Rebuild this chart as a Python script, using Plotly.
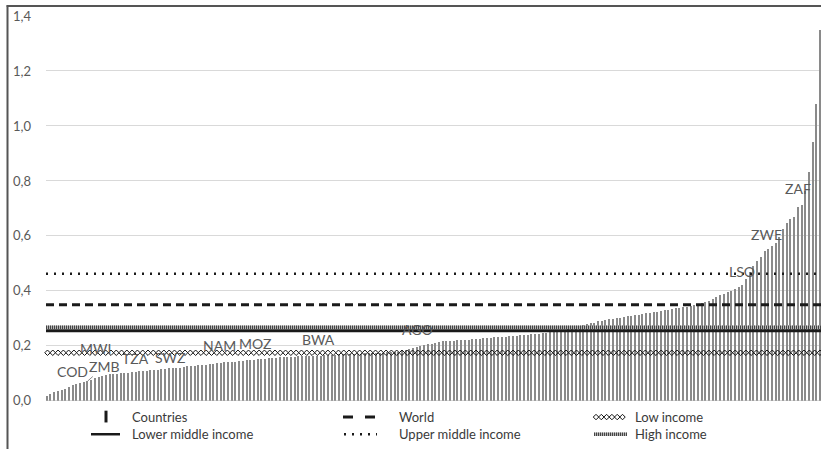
import numpy as np
import plotly.graph_objects as go

# ---------------------------------------------------------------- data
# One value per country, sorted ascending
country_values = [
    0.018, 0.026, 0.031, 0.036, 0.040, 0.044, 0.051, 0.056, 0.060, 0.064,
    0.068, 0.072, 0.077, 0.082, 0.086, 0.090, 0.094, 0.097, 0.098, 0.099,
    0.100, 0.102, 0.103, 0.105, 0.106, 0.108, 0.109, 0.110, 0.111, 0.113,
    0.114, 0.115, 0.117, 0.118, 0.119, 0.120, 0.121, 0.123, 0.125, 0.126,
    0.128, 0.129, 0.131, 0.132, 0.134, 0.135, 0.137, 0.138, 0.140, 0.141,
    0.142, 0.143, 0.145, 0.146, 0.147, 0.149, 0.150, 0.151, 0.152, 0.154,
    0.155, 0.156, 0.157, 0.158, 0.159, 0.160, 0.160, 0.161, 0.162, 0.162,
    0.163, 0.163, 0.164, 0.165, 0.165, 0.166, 0.167, 0.167, 0.168, 0.169,
    0.169, 0.170, 0.170, 0.171, 0.172, 0.172, 0.173, 0.173, 0.174, 0.174,
    0.175, 0.175, 0.176, 0.176, 0.177, 0.177, 0.180, 0.185, 0.189, 0.193,
    0.196, 0.200, 0.203, 0.206, 0.208, 0.211, 0.214, 0.216, 0.217, 0.218,
    0.219, 0.220, 0.221, 0.222, 0.223, 0.224, 0.225, 0.226, 0.227, 0.229,
    0.230, 0.231, 0.232, 0.233, 0.234, 0.235, 0.236, 0.237, 0.238, 0.240,
    0.241, 0.242, 0.244, 0.245, 0.246, 0.248, 0.250, 0.252, 0.254, 0.256,
    0.259, 0.262, 0.265, 0.268, 0.272, 0.276, 0.279, 0.282, 0.285, 0.289,
    0.291, 0.294, 0.297, 0.299, 0.301, 0.303, 0.305, 0.307, 0.309, 0.311,
    0.313, 0.316, 0.318, 0.321, 0.323, 0.325, 0.328, 0.330, 0.332, 0.334,
    0.336, 0.338, 0.340, 0.342, 0.345, 0.349, 0.354, 0.357, 0.360, 0.363,
    0.371, 0.379, 0.385, 0.390, 0.395, 0.401, 0.407, 0.414, 0.422, 0.444,
    0.468, 0.490, 0.510, 0.525, 0.545, 0.554, 0.565, 0.575, 0.596, 0.626,
    0.648, 0.662, 0.669, 0.705, 0.713, 0.765, 0.832, 0.940, 1.080, 1.350,
]

# Income-group averages drawn as horizontal reference lines
group_names = ["World", "Low income", "Lower middle income",
               "Upper middle income", "High income"]
group_values = [0.350, 0.175, 0.255, 0.462, 0.268]

# Highlighted countries: code, label centre (bar position, value)
label_codes = ["COD", "MWI", "ZMB", "TZA", "SWZ", "NAM",
               "MOZ", "BWA", "AGO", "LSO", "ZWE", "ZAF"]
label_x = [6.8, 13.0, 15.4, 23.8, 33.3, 46.5, 56.3, 73.3, 100.1, 187.9, 194.4, 203.1]
label_y = [0.107, 0.189, 0.124, 0.154, 0.157, 0.201, 0.207, 0.225, 0.261, 0.469, 0.606, 0.773]
zmb_bar = 11  # ZMB label is tied to its bar with a leader line

y_ticks = [0.0, 0.2, 0.4, 0.6, 0.8, 1.0, 1.2, 1.4]

# ---------------------------------------------------------------- layout constants
W, H = 821, 455
M_L, M_R, M_T, M_B = 46, 0, 16, 0
PLOT_BOTTOM_PX = 408
FONT = "Lato"
TEXT_GREY = "#595959"
LINE_DARK = "#1a1a1a"

plot_h = H - M_T - M_B
plot_w = W - M_L - M_R
y_dom0 = (H - M_B - PLOT_BOTTOM_PX) / plot_h
leg_dom1 = 0.095
leg_top_px = H - M_B - leg_dom1 * plot_h


def paper_x(px):
    return (px - M_L) / plot_w


def paper_y(py):
    return (H - M_B - py) / plot_h


n = len(country_values)
bar_idx = list(range(n))
x_lo, x_hi = -0.27, n - 1 + 0.2

fig = go.Figure()

# Country bars
fig.add_trace(go.Bar(
    x=bar_idx, y=country_values, width=0.4,
    marker=dict(color="#8a8a8a", line=dict(width=0)),
    showlegend=False, hoverinfo="y",
))

world, low, lower_mid, upper_mid, high = group_values

# Low income: chain of open diamonds
diamond_x = np.arange(x_lo + 0.4, x_hi, 1.43)
fig.add_trace(go.Scatter(
    x=diamond_x, y=[low] * len(diamond_x), mode="markers",
    marker=dict(symbol="diamond-open", size=4.2, color="#111111",
                line=dict(width=1, color="#111111")),
    showlegend=False, hoverinfo="skip", cliponaxis=False,
))

shapes = []


def hline(y, **line):
    shapes.append(dict(type="line", xref="paper", yref="y", x0=0, x1=1,
                       y0=y, y1=y, line=line, layer="above"))


hline(upper_mid, color=LINE_DARK, width=2.5, dash="2px,6px")
hline(world, color=LINE_DARK, width=3, dash="8px,5px")
hline(high, color="#b5b5b5", width=3.5)
hline(high, color="#444444", width=3.5, dash="1px,1px")
hline(lower_mid, color=LINE_DARK, width=3)

# Frame around the figure (top and left edges)
shapes.append(dict(type="line", xref="paper", yref="paper",
                   x0=paper_x(6.6), x1=paper_x(W + 2), y0=paper_y(5.8), y1=paper_y(5.8),
                   line=dict(color="#555555", width=2)))
shapes.append(dict(type="line", xref="paper", yref="paper",
                   x0=paper_x(7.5), x1=paper_x(7.5), y0=paper_y(5), y1=paper_y(H + 2),
                   line=dict(color="#555555", width=2)))

annotations = []
for code, lx, ly in zip(label_codes, label_x, label_y):
    if code == "ZMB":
        continue
    annotations.append(dict(x=lx, y=ly, xref="x", yref="y", text=code,
                            showarrow=False, xanchor="center", yanchor="middle",
                            font=dict(family=FONT, size=14, color=TEXT_GREY)))

# ZMB label with leader line to its bar
zi = label_codes.index("ZMB")
px_per_bar = plot_w / (x_hi - x_lo)
px_per_unit = (PLOT_BOTTOM_PX - M_T) / (y_ticks[-1] - y_ticks[0])
annotations.append(dict(
    x=zmb_bar, y=country_values[zmb_bar], xref="x", yref="y", text="ZMB",
    showarrow=True, arrowhead=0, arrowwidth=1, arrowcolor="#8a8a8a", standoff=0,
    ax=(label_x[zi] - zmb_bar) * px_per_bar,
    ay=-(label_y[zi] - country_values[zmb_bar]) * px_per_unit,
    font=dict(family=FONT, size=14, color=TEXT_GREY),
))

# ---------------------------------------------------------------- legend
# Drawn on its own hidden axes below the plot, in pixel-like units
LEG = dict(xaxis="x2", yaxis="y2", showlegend=False, hoverinfo="skip")
row1, row2 = 424.5, 442
col_sym = [(91, 120), (343, 377), (594, 627)]
col_txt = [130, 397, 633]


def leg_line(x0, x1, y, **line):
    fig.add_trace(go.Scatter(x=[x0, x1], y=[y, y], mode="lines", line=line, **LEG))


# Countries: short vertical bar
fig.add_trace(go.Scatter(x=[106, 106], y=[418, 430], mode="lines",
                         line=dict(color=LINE_DARK, width=3), **LEG))
leg_line(*col_sym[0], row2, color=LINE_DARK, width=2.5)
leg_line(*col_sym[1], row1, color=LINE_DARK, width=3, dash="10px,12px")
leg_line(col_sym[1][0] + 1, col_sym[1][1], row2, color=LINE_DARK, width=2.5, dash="2px,6px")
leg_diamonds = np.arange(col_sym[2][0] + 2, col_sym[2][1], 5.3)
fig.add_trace(go.Scatter(x=leg_diamonds, y=[row1] * len(leg_diamonds), mode="markers",
                         marker=dict(symbol="diamond-open", size=4.2, color="#111111",
                                     line=dict(width=1, color="#111111")), **LEG))
leg_line(*col_sym[2], row2, color="#b5b5b5", width=3.5)
leg_line(*col_sym[2], row2, color="#444444", width=3.5, dash="1px,1px")

legend_items = [("Countries", 0, row1), (group_names[2], 0, row2),
                (group_names[0], 1, row1), (group_names[3], 1, row2),
                (group_names[1], 2, row1), (group_names[4], 2, row2)]
for text, col, row in legend_items:
    annotations.append(dict(x=col_txt[col], y=row, xref="x2", yref="y2", text=text,
                            showarrow=False, xanchor="left", yanchor="middle",
                            font=dict(family=FONT, size=13, color="#3a3a3a")))

fig.update_layout(
    width=W, height=H,
    margin=dict(l=M_L, r=M_R, t=M_T, b=M_B, pad=0),
    paper_bgcolor="white", plot_bgcolor="white",
    separators=",.",
    bargap=0,
    font=dict(family=FONT, color=TEXT_GREY),
    xaxis=dict(range=[x_lo, x_hi], showgrid=False, zeroline=False,
               showticklabels=False, ticks="", showline=False, domain=[0, 1]),
    yaxis=dict(range=[y_ticks[0], y_ticks[-1]], domain=[y_dom0, 1],
               tickvals=y_ticks, tickformat=".1f",
               showgrid=True, gridcolor="#d9d9d9", gridwidth=1,
               zeroline=True, zerolinecolor="#d9d9d9", zerolinewidth=1,
               showline=False, ticks="", ticklabelstandoff=14,
               tickfont=dict(family=FONT, size=13, color=TEXT_GREY)),
    xaxis2=dict(domain=[0, 1], range=[M_L, W - M_R], anchor="y2", visible=False),
    yaxis2=dict(domain=[0, leg_dom1], range=[H - M_B, leg_top_px], anchor="x2",
                visible=False),
    shapes=shapes,
    annotations=annotations,
)

fig.write_html("out.html")
